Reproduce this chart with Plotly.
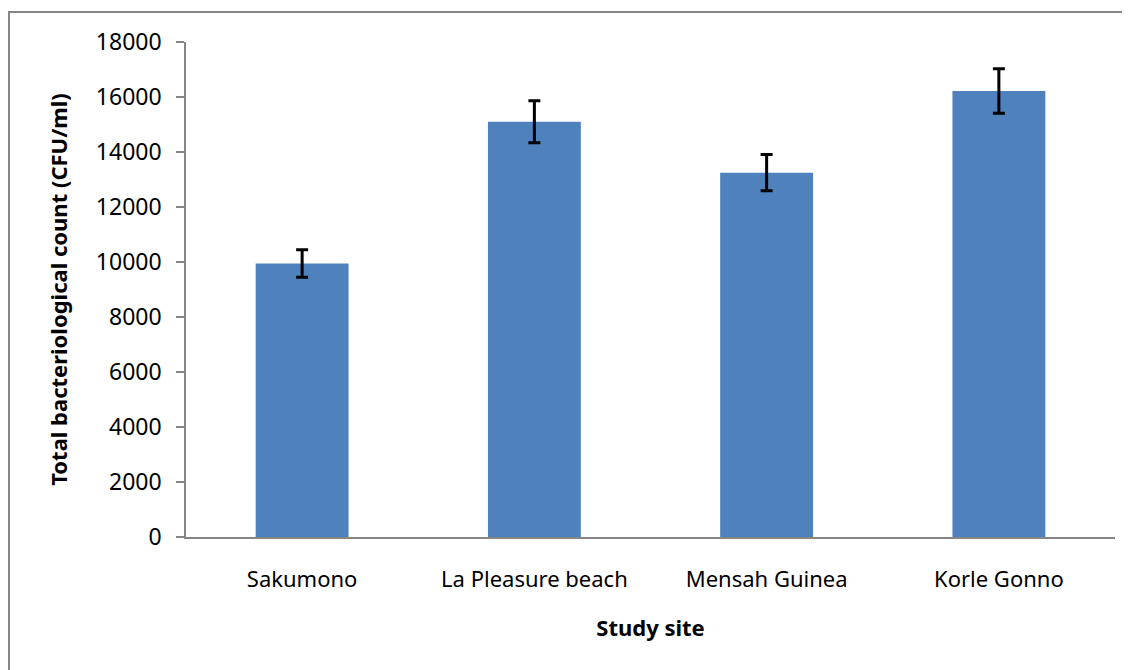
import plotly.graph_objects as go

sites = ["Sakumono", "La Pleasure beach", "Mensah Guinea", "Korle Gonno"]
counts = [9950, 15100, 13250, 16220]
errors = [500, 760, 660, 810]
y_ticks = [0, 2000, 4000, 6000, 8000, 10000, 12000, 14000, 16000, 18000]
y_tick_labels = [str(v) for v in y_ticks]

FONT = "Noto Sans"
OFF = 8  # page body margin
W, H = 1122, 662
L, R, T = 186 - OFF, 15, 42 - OFF
ph = 495
B = H - T - ph
pw = W - L - R

fig = go.Figure(go.Bar(
    x=sites, y=counts,
    marker=dict(color="#4F81BD", line=dict(width=0)),
    error_y=dict(type="data", array=errors, visible=True, color="black", thickness=3, width=6),
))

fig.update_layout(
    width=W, height=H,
    margin=dict(l=L, r=R, t=T, b=B),
    paper_bgcolor="white", plot_bgcolor="white",
    bargap=0.6,
    showlegend=False,
    font=dict(family=FONT, color="black", size=22),
    xaxis=dict(
        showline=True, linecolor="#868686", linewidth=1.5,
        ticks="", tickfont=dict(size=22, family=FONT), ticklabelstandoff=22,
        title=dict(text="<b>Study site</b>", font=dict(size=22, family=FONT), standoff=28),
        showgrid=False,
    ),
    yaxis=dict(
        range=[0, 18000], tickvals=y_ticks, ticktext=y_tick_labels,
        showline=True, linecolor="#868686", linewidth=1.5,
        ticks="outside", ticklen=8, tickcolor="#868686", tickwidth=1.5,
        tickfont=dict(size=23, family=FONT), ticklabelstandoff=10,
        showgrid=False, zeroline=False,
        title=dict(text="<b>Total bacteriological count (CFU/ml)</b>", font=dict(size=22, family=FONT), standoff=22),
    ),
    shapes=[dict(
        type="rect", xref="paper", yref="paper",
        x0=(1 - L) / pw, x1=(1116 - L) / pw,
        y0=(T + ph - 720) / ph, y1=1 + (T - 4) / ph,
        line=dict(color="#868686", width=2), fillcolor="rgba(0,0,0,0)", layer="below",
    )],
)

fig.write_html("out.html")
